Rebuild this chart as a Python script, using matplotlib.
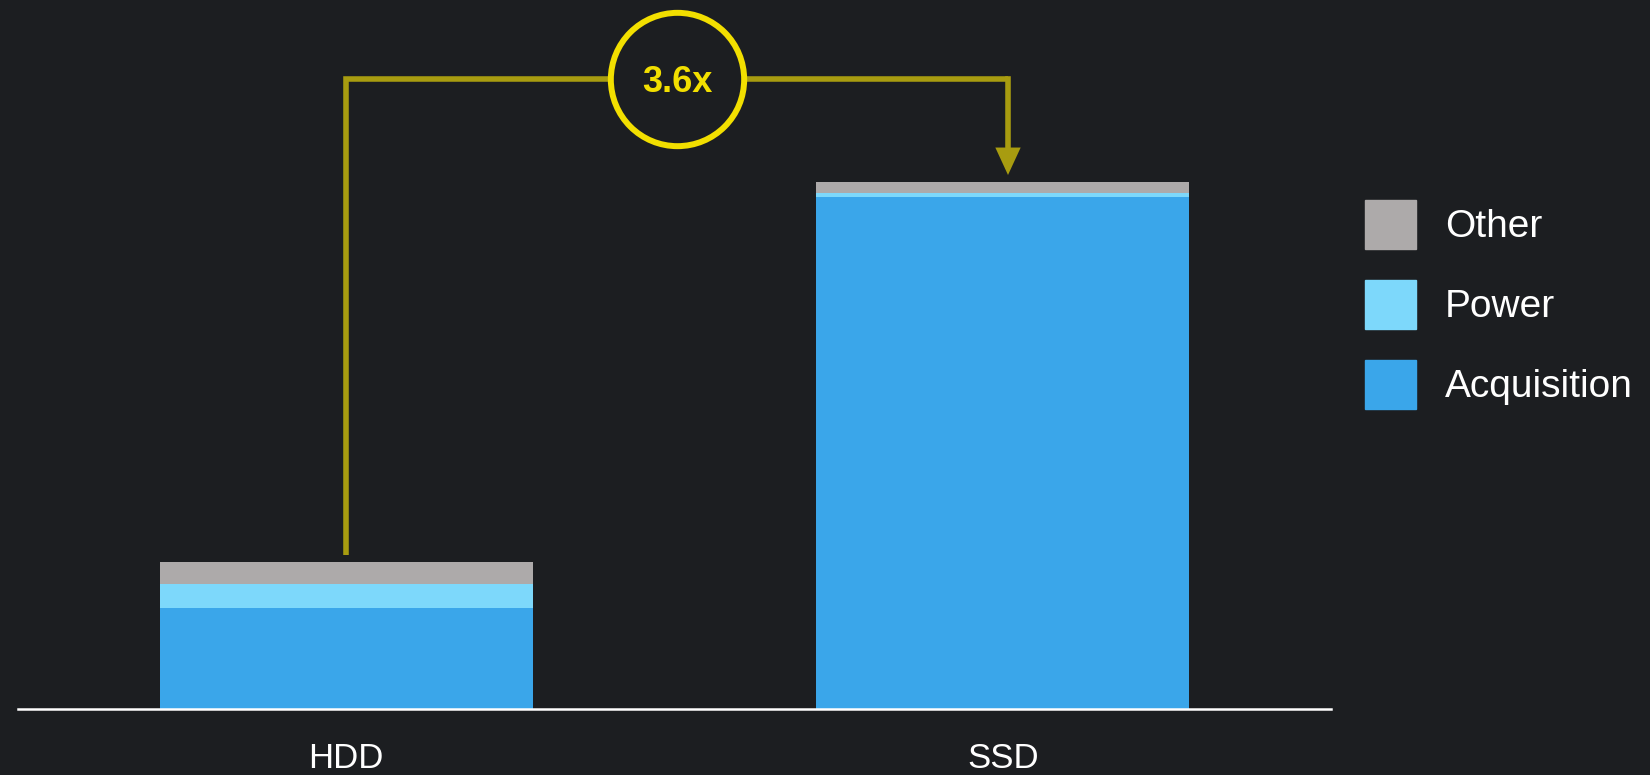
import matplotlib
matplotlib.use("Agg")
from matplotlib import pyplot as plt
from matplotlib.patches import Patch

# Cost components per drive type (relative units)
drives = ["HDD", "SSD"]
acquisition = [101, 512]
power = [24, 4]
other = [22, 11]
ratio_label = "3.6x"

bg = "#1c1e21"
c_acq = "#3aa6ea"
c_pow = "#7dd8fb"
c_oth = "#adaaaa"
c_line = "#a89c10"
c_ring = "#f2df00"

plt.rcParams["font.family"] = ["Liberation Sans", "DejaVu Sans"]

fig = plt.figure(figsize=(16.5, 7.75), dpi=100, facecolor=bg)
ax = fig.add_axes([18 / 1650, 66 / 775, 1313 / 1650, 709 / 775])
ax.set_facecolor(bg)

x = list(range(len(drives)))
w = 0.568
ax.bar(x, acquisition, w, color=c_acq, label="Acquisition")
ax.bar(x, power, w, bottom=acquisition, color=c_pow, label="Power")
base3 = [a + p for a, p in zip(acquisition, power)]
ax.bar(x, other, w, bottom=base3, color=c_oth, label="Other")
totals = [b + o for b, o in zip(base3, other)]

ax.set_xlim(-0.5, 1.5)
ax.set_ylim(0, 709)

# connector from HDD to SSD (arrow sits a bit right of SSD centre)
y_top = 630
x_end = x[1] + 0.008
ax.plot([x[0], x[0], x_end], [totals[0] + 7, y_top, y_top], color=c_line,
        lw=4, solid_capstyle="butt", solid_joinstyle="miter", zorder=3)
ax.annotate("", xy=(x_end, totals[1] + 7), xytext=(x_end, y_top + 2.8),
            arrowprops=dict(arrowstyle="-|>,head_length=1.3,head_width=0.6",
                            color=c_line, lw=4, shrinkA=0, shrinkB=0,
                            joinstyle="miter", capstyle="butt"),
            zorder=3)
x_mid = (x[0] + x_end) / 2
ax.plot([x_mid], [y_top], marker="o", markersize=96, mfc=bg, mec=c_ring,
        mew=4.3, zorder=4)
ax.text(x_mid, y_top + 1, ratio_label, color=c_ring, fontsize=26,
        fontweight="bold", ha="center", va="center_baseline", zorder=5)

for s in ["top", "left", "right"]:
    ax.spines[s].set_visible(False)
ax.spines["bottom"].set_color("white")
ax.spines["bottom"].set_linewidth(1.8)
ax.set_yticks([])
ax.set_xticks(x)
ax.set_xticklabels(drives, color="white", fontsize=25)
ax.tick_params(axis="x", length=0, pad=24)

handles = [Patch(color=c_oth, label="Other"),
           Patch(color=c_pow, label="Power"),
           Patch(color=c_acq, label="Acquisition")]
fig.legend(handles=handles, loc="upper left",
           bbox_to_anchor=(1365 / 1650, 1 - 200 / 775), frameon=False,
           fontsize=28, labelcolor="white", handlelength=1.31,
           handleheight=1.56, handletextpad=0.75, labelspacing=0.8,
           borderpad=0, borderaxespad=0)

fig.savefig("out.png", dpi=100, facecolor=bg)
